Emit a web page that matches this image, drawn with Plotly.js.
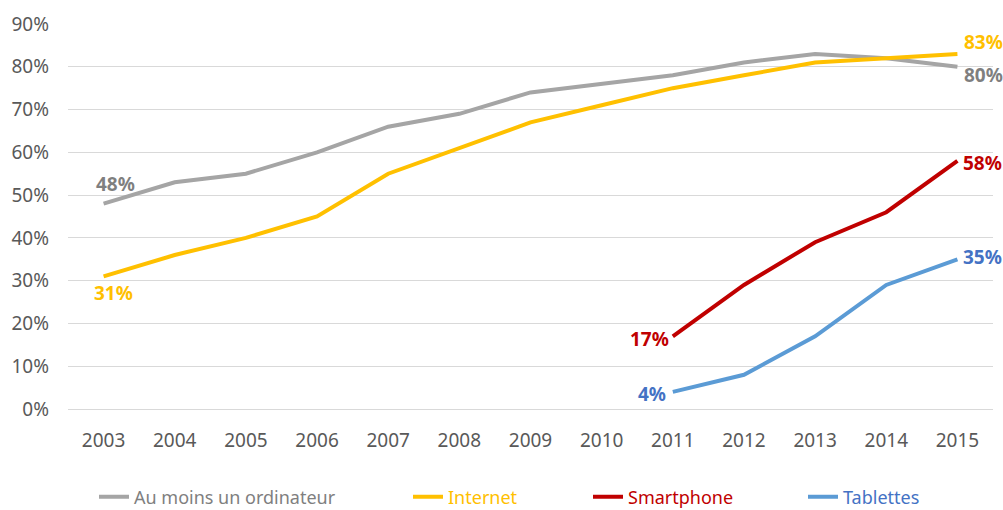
<!DOCTYPE html>
<html><head><meta charset="utf-8">
<script src="https://cdn.plot.ly/plotly-3.0.1.min.js"></script>
<style>body{margin:0;background:#fff}#c{width:1003px;height:510px}</style>
</head><body><div id="c"></div>
<script>
const years = ['2003','2004','2005','2006','2007','2008','2009','2010','2011','2012','2013','2014','2015'];
const ordinateur = [48,53,55,60,66,69,74,76,78,81,83,82,80];
const internet = [31,36,40,45,55,61,67,71,75,78,81,82,83];
const smartphone = [null,null,null,null,null,null,null,null,17,29,39,46,58];
const tablettes = [null,null,null,null,null,null,null,null,4,8,17,29,35];
const yTicks = [0,10,20,30,40,50,60,70,80,90];

const FONT = "'Noto Sans', sans-serif";
const series = [
  {name:'Au moins un ordinateur', y:ordinateur, line:'#a5a5a5', lab:'#7f7f7f', leg:'#7f7f7f', lx:134},
  {name:'Internet', y:internet, line:'#ffc000', lab:'#ffc000', leg:'#ffc000', lx:448},
  {name:'Smartphone', y:smartphone, line:'#c00000', lab:'#c00000', leg:'#c00000', lx:628},
  {name:'Tablettes', y:tablettes, line:'#5b9bd5', lab:'#4472c4', leg:'#4472c4', lx:843}
];
const legendIds = ['legend','legend2','legend3','legend4'];
const traces = series.map((s,i) => ({
  type:'scatter', mode:'lines', x:years, y:s.y, name:s.name, legend:legendIds[i],
  line:{color:s.line, width:4}, hoverinfo:'skip'
}));

function firstIdx(a){return a.findIndex(v=>v!==null);}
// label placements: [first, last] as [xshift, yshift]
const place = [
  [[12,20],[26,-8]],
  [[10,-17],[26,12]],
  [[-23,-3],[25,-2]],
  [[-21,-2],[25,2]]
];
const annotations = [];
series.forEach((s,i)=>{
  const f = firstIdx(s.y), l = s.y.length-1;
  [[f,place[i][0]],[l,place[i][1]]].forEach(([idx,p])=>{
    annotations.push({xref:'x', yref:'y', x:idx, y:s.y[idx], text:'<b>'+s.y[idx]+'%</b>', showarrow:false,
      xanchor:'center', yanchor:'middle',
      xshift:p[0], yshift:p[1], font:{family:FONT, size:19, color:s.lab}});
  });
});

const layout = {
  width:1003, height:510,
  margin:{l:68, r:10, t:24, b:101},
  paper_bgcolor:'#fff', plot_bgcolor:'#fff',
  font:{family:FONT, size:19, color:'#595959'},
  showlegend:true,
  xaxis:{type:'category', range:[-0.5,12.5], showgrid:false, showline:true, linecolor:'#d9d9d9', linewidth:1,
    ticks:'', ticklabelstandoff:14, tickfont:{family:FONT, size:19, color:'#595959'}, fixedrange:true},
  yaxis:{range:[0,90], tickvals:yTicks, ticktext:yTicks.map(v=>v+'%'), showgrid:true, gridcolor:'#d9d9d9',
    zeroline:false, showline:false, ticks:'', ticklabelstandoff:18, tickfont:{family:FONT, size:19, color:'#595959'}, fixedrange:true},
  annotations:annotations
};
series.forEach((s,i)=>{
  layout[legendIds[i]] = {orientation:'h', xref:'container', yref:'container', x:(s.lx-40)/1003, xanchor:'left',
    y:13/510, yanchor:'middle', bgcolor:'rgba(0,0,0,0)', font:{family:FONT, size:18, color:s.leg}, itemwidth:30};
});
Plotly.newPlot('c', traces, layout, {displayModeBar:false, staticPlot:true});
</script></body></html>
